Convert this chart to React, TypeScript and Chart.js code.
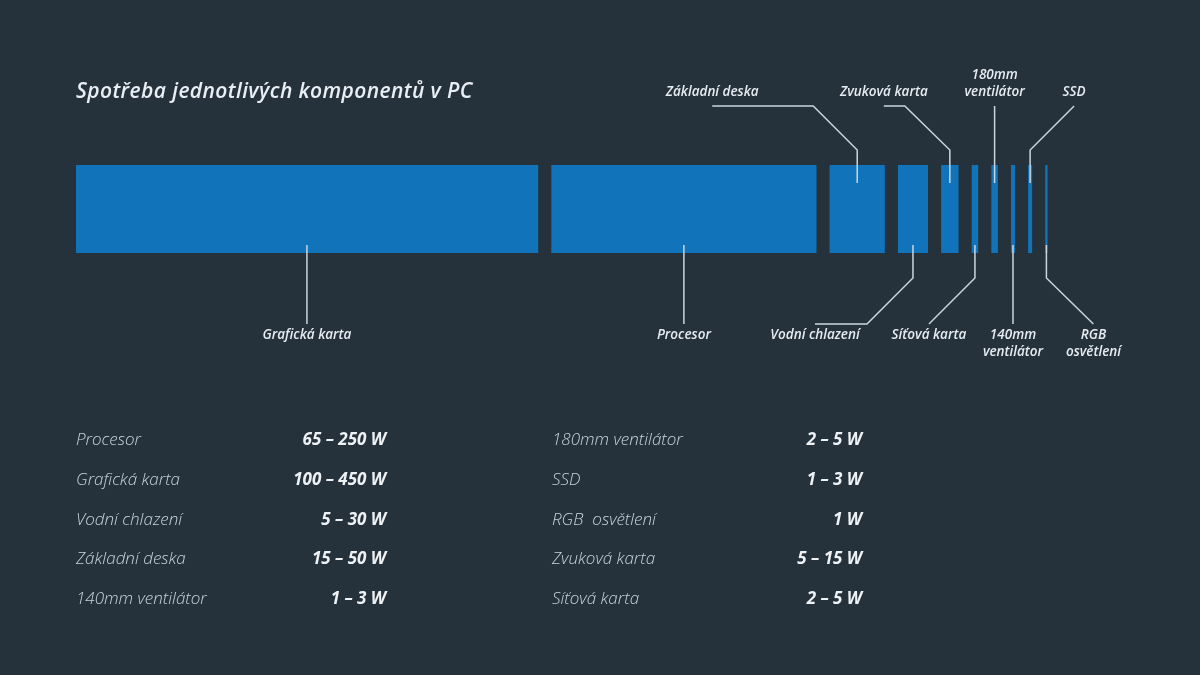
import React, { useEffect, useRef } from "react";
import { Chart, registerables } from "chart.js";

Chart.register(...registerables);

// ---------- data ----------
const COMPONENTS = [
  "Grafická karta",
  "Procesor",
  "Základní deska",
  "Vodní chlazení",
  "Zvuková karta",
  "Síťová karta",
  "180mm ventilátor",
  "140mm ventilátor",
  "SSD",
  "RGB osvětlení",
];
const MIN_W = [100, 65, 15, 5, 5, 2, 2, 1, 1, 1];
const MAX_W = [450, 250, 50, 30, 15, 5, 5, 3, 3, 1];

const TABLE_LEFT = ["Procesor", "Grafická karta", "Vodní chlazení", "Základní deska", "140mm ventilátor"];
const TABLE_RIGHT = ["180mm ventilátor", "SSD", "RGB osvětlení", "Zvuková karta", "Síťová karta"];
const TABLE_LABELS: Record<string, string> = { "RGB osvětlení": "RGB  osvětlení" };

const TITLE = "Spotřeba jednotlivých komponentů v PC";

// bar length = average consumption (midpoint of the range)
const AVG_W = COMPONENTS.map((_, i) => (MIN_W[i] + MAX_W[i]) / 2);
const GAP_W = 8.2;
const AXIS_MAX = 624;

// ---------- layout / style ----------
const BG = "#25323c";
const BAR = "#1173b9";
const LINE = "#c9d6df";
const TEXT = "#e6ecf1";
const FONT = '"Open Sans", "DejaVu Sans", sans-serif';

type Leader = { side: "top" | "bottom"; elbow: boolean; dx: number; tail: number; lines: string[] };
const LEADERS: Leader[] = [
  { side: "bottom", elbow: false, dx: 0, tail: 0, lines: ["Grafická karta"] },
  { side: "bottom", elbow: false, dx: 0, tail: 0, lines: ["Procesor"] },
  { side: "top", elbow: true, dx: -44, tail: -101, lines: ["Základní deska"] },
  { side: "bottom", elbow: true, dx: -46, tail: -52, lines: ["Vodní chlazení"] },
  { side: "top", elbow: true, dx: -45, tail: -21, lines: ["Zvuková karta"] },
  { side: "bottom", elbow: true, dx: -46, tail: 0, lines: ["Síťová karta"] },
  { side: "top", elbow: false, dx: 0, tail: 0, lines: ["180mm", "ventilátor"] },
  { side: "bottom", elbow: false, dx: 0, tail: 0, lines: ["140mm", "ventilátor"] },
  { side: "top", elbow: true, dx: 44, tail: 0, lines: ["SSD"] },
  { side: "bottom", elbow: true, dx: 47, tail: 0, lines: ["RGB", "osvětlení"] },
];

function rangeText(i: number) {
  return MIN_W[i] === MAX_W[i] ? `${MIN_W[i]} W` : `${MIN_W[i]} – ${MAX_W[i]} W`;
}

const leaderPlugin = {
  id: "leaders",
  afterDatasetsDraw(chart: any) {
    const ctx = chart.ctx as CanvasRenderingContext2D;
    ctx.save();
    ctx.strokeStyle = LINE;
    ctx.lineWidth = 1.5;
    ctx.fillStyle = TEXT;
    ctx.font = `italic 600 13.5px ${FONT}`;
    ctx.textAlign = "center";
    ctx.textBaseline = "middle";
    chart.data.datasets.forEach((_: any, di: number) => {
      const el = chart.getDatasetMeta(di).data[0];
      if (!el) return;
      const cx = (el.x + el.base) / 2;
      const top = el.y - el.height / 2;
      const bottom = el.y + el.height / 2;
      const L = LEADERS[di];
      ctx.beginPath();
      let labelX = cx;
      if (L.side === "bottom") {
        const y0 = bottom - 8;
        const yEnd = bottom + 71;
        ctx.moveTo(cx, y0);
        if (L.elbow) {
          ctx.lineTo(cx, bottom + 25);
          ctx.lineTo(cx + L.dx, yEnd);
          if (L.tail) ctx.lineTo(cx + L.dx + L.tail, yEnd);
          labelX = cx + L.dx + L.tail;
        } else {
          ctx.lineTo(cx, yEnd);
        }
        ctx.stroke();
        L.lines.forEach((t, k) => ctx.fillText(t, labelX, bottom + 82 + k * 17));
      } else {
        const y0 = top + 18;
        const yEnd = top - 59;
        ctx.moveTo(cx, y0);
        if (L.elbow) {
          ctx.lineTo(cx, top - 15);
          ctx.lineTo(cx + L.dx, yEnd);
          if (L.tail) ctx.lineTo(cx + L.dx + L.tail, yEnd);
          labelX = cx + L.dx + L.tail;
        } else {
          ctx.lineTo(cx, yEnd);
        }
        ctx.stroke();
        const n = L.lines.length;
        L.lines.forEach((t, k) => ctx.fillText(t, labelX, top - 73 - (n - 1 - k) * 17));
      }
    });
    ctx.restore();
  },
};

function TableRow({ name, x, row }: { name: string; x: number; row: number }) {
  const i = COMPONENTS.indexOf(name);
  return (
    <div
      style={{
        position: "absolute",
        left: x,
        top: 439 + row * 39.75 - 12,
        width: 310,
        height: 24,
        lineHeight: "24px",
        display: "flex",
        justifyContent: "space-between",
        fontSize: 17,
        fontStyle: "italic",
      }}
    >
      <span style={{ color: "#c9d2da", fontWeight: 300, whiteSpace: "pre" }}>{TABLE_LABELS[name] ?? name}</span>
      <span style={{ color: "#eef2f5", fontWeight: 700 }}>{rangeText(i)}</span>
    </div>
  );
}

export default function App() {
  const ref = useRef<HTMLCanvasElement | null>(null);

  useEffect(() => {
    if (!ref.current) return;
    let start = 0;
    const datasets = COMPONENTS.map((name, i) => {
      const range: [number, number] = [start, start + AVG_W[i]];
      start += AVG_W[i] + GAP_W;
      return {
        label: name,
        data: [range],
        backgroundColor: BAR,
        borderWidth: 0,
        grouped: false,
        barPercentage: 1,
        categoryPercentage: 1,
      };
    });
    const chart = new Chart(ref.current, {
      type: "bar",
      data: { labels: ["PC"], datasets: datasets as any },
      options: {
        responsive: false,
        animation: false,
        indexAxis: "y",
        layout: { padding: { left: 76, right: 76, top: 165, bottom: 422 } },
        scales: {
          x: { display: false, min: 0, max: AXIS_MAX },
          y: { display: false },
        },
        plugins: { legend: { display: false }, tooltip: { enabled: false }, title: { display: false } },
      },
      plugins: [leaderPlugin],
    });
    return () => chart.destroy();
  }, []);

  return (
    <div
      style={{
        position: "absolute",
        left: 0,
        top: 0,
        width: 1200,
        height: 675,
        background: BG,
        overflow: "hidden",
        fontFamily: FONT,
      }}
    >
      <canvas ref={ref} width={1200} height={675} style={{ position: "absolute", left: 0, top: 0 }} />
      <div
        style={{
          position: "absolute",
          left: 76,
          top: 77,
          fontSize: 21,
          lineHeight: "26px",
          letterSpacing: 0.4,
          fontStyle: "italic",
          fontWeight: 600,
          color: "#e8eef3",
          whiteSpace: "nowrap",
        }}
      >
        {TITLE}
      </div>
      {TABLE_LEFT.map((n, r) => (
        <TableRow key={n} name={n} x={76} row={r} />
      ))}
      {TABLE_RIGHT.map((n, r) => (
        <TableRow key={n} name={n} x={552} row={r} />
      ))}
    </div>
  );
}
